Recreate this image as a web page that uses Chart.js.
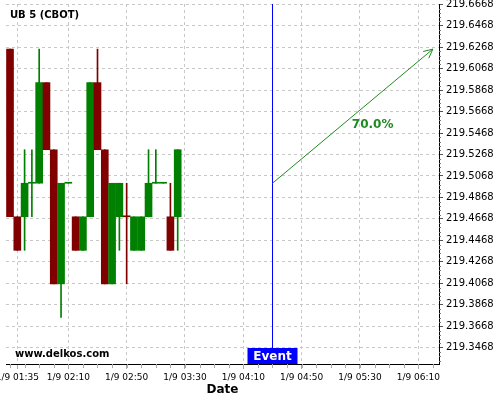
<!DOCTYPE html>
<html>
<head>
<meta charset="utf-8">
<script src="https://cdn.jsdelivr.net/npm/chart.js@4.4.0/dist/chart.umd.min.js"></script>
<style>
  html, body { margin: 0; padding: 0; background: #fff; }
</style>
</head>
<body>
<canvas id="myChart" width="500" height="400"></canvas>
<script>
// 5 minute bars, time = minutes after midnight on 1/9
const times  = [90, 95, 100, 105, 110, 115, 120, 125, 130, 135, 140, 145,
                150, 155, 160, 165, 170, 175, 180, 185, 190, 195, 200, 205]
const opens  = [219.625, 219.46875, 219.46875, 219.5, 219.5, 219.59375, 219.53125, 219.40625, 219.5, 219.46875, 219.4375, 219.46875,
                219.59375, 219.53125, 219.40625, 219.46875, 219.46875, 219.4375, 219.4375, 219.46875, 219.5, 219.5, 219.46875, 219.46875]
const highs  = [219.625, 219.46875, 219.53125, 219.53125, 219.625, 219.59375, 219.53125, 219.5, 219.5, 219.46875, 219.46875, 219.59375,
                219.625, 219.53125, 219.5, 219.5, 219.5, 219.46875, 219.46875, 219.53125, 219.53125, 219.5, 219.5, 219.53125]
const lows   = [219.46875, 219.4375, 219.4375, 219.46875, 219.5, 219.53125, 219.40625, 219.375, 219.5, 219.4375, 219.4375, 219.46875,
                219.53125, 219.40625, 219.40625, 219.4375, 219.40625, 219.4375, 219.4375, 219.46875, 219.5, 219.5, 219.4375, 219.4375]
const closes = [219.46875, 219.4375, 219.5, 219.5, 219.59375, 219.53125, 219.40625, 219.5, 219.5, 219.4375, 219.46875, 219.59375,
                219.53125, 219.40625, 219.5, 219.5, 219.46875, 219.46875, 219.46875, 219.5, 219.5, 219.5, 219.4375, 219.53125]

const xTickTimes = [95, 130, 170, 210, 250, 290, 330, 370]
const yTicks = [219.3468, 219.3668, 219.3868, 219.4068, 219.4268, 219.4468, 219.4668, 219.4868,
                219.5068, 219.5268, 219.5468, 219.5668, 219.5868, 219.6068, 219.6268, 219.6468, 219.6668]

// event + forecast arrow
const eventTime = 270
const eventPrice = 219.5
const targetTime = 380
const targetPrice = 219.625
const forecastText = '70.0%'

const GREEN = '#008000'
const RED = '#800000'
const ARROW = '#1f8a1f'

function isUp(i){
  if (closes[i] !== opens[i]) return closes[i] > opens[i]
  return i === 0 || closes[i] >= closes[i-1]
}

function fmtTime(m){
  const h = Math.floor(m / 60)
  const mm = m % 60
  return '1/9 ' + String(h).padStart(2, '0') + ':' + String(mm).padStart(2, '0')
}

const candleColor = (c) => isUp(c.dataIndex) ? GREEN : RED

const overlay = {
  id: 'overlay',
  afterDraw(chart){
    const {ctx, chartArea: a, scales: {x, y}} = chart
    ctx.save()

    // minor ticks on y axis
    ctx.strokeStyle = '#777'
    ctx.lineWidth = 1
    for (let k = -5; k <= 90; k++){
      if (k % 5 === 0) continue
      const v = yTicks[0] + k * 0.004
      const py = Math.round(y.getPixelForValue(v)) + 0.5
      if (py < a.top || py > a.bottom) continue
      ctx.beginPath(); ctx.moveTo(a.right, py); ctx.lineTo(a.right + 2, py); ctx.stroke()
    }
    // minor ticks on x axis, every 10 minutes
    ctx.strokeStyle = '#aaa'
    for (let m = 90; m <= 380; m += 10){
      const px = Math.round(x.getPixelForValue(m)) + 0.5
      ctx.beginPath(); ctx.moveTo(px, a.bottom); ctx.lineTo(px, a.bottom + 4); ctx.stroke()
    }

    // event line
    const ex = Math.round(x.getPixelForValue(eventTime)) + 0.5
    ctx.strokeStyle = '#0000ff'
    ctx.beginPath(); ctx.moveTo(ex, a.top); ctx.lineTo(ex, a.bottom); ctx.stroke()

    // arrow
    const x1 = x.getPixelForValue(eventTime), y1 = y.getPixelForValue(eventPrice)
    const x2 = x.getPixelForValue(targetTime), y2 = y.getPixelForValue(targetPrice)
    ctx.strokeStyle = ARROW
    ctx.beginPath(); ctx.moveTo(x1, y1); ctx.lineTo(x2, y2); ctx.stroke()
    const ang = Math.atan2(y2 - y1, x2 - x1)
    const hl = 10
    ctx.beginPath()
    ctx.moveTo(x2 - hl * Math.cos(ang - 0.45), y2 - hl * Math.sin(ang - 0.45))
    ctx.lineTo(x2, y2)
    ctx.lineTo(x2 - hl * Math.cos(ang + 0.45), y2 - hl * Math.sin(ang + 0.45))
    ctx.stroke()

    ctx.fillStyle = ARROW
    ctx.font = 'bold 12px "DejaVu Sans"'
    ctx.textAlign = 'center'
    ctx.textBaseline = 'middle'
    ctx.fillText(forecastText, (x1 + x2) / 2 + 20, (y1 + y2) / 2 + 9)

    // event label
    ctx.fillStyle = '#0000ff'
    ctx.fillRect(ex - 25, a.bottom - 16, 50, 16)
    ctx.fillStyle = '#fff'
    ctx.fillText('Event', ex, a.bottom - 7.5)

    // title + watermark
    ctx.fillStyle = '#000'
    ctx.font = 'bold 10px "DejaVu Sans"'
    ctx.textAlign = 'left'
    ctx.fillText('UB 5 (CBOT)', 10, 15.5)
    ctx.fillText('www.delkos.com', 15, 354)

    ctx.restore()
  }
}

new Chart(document.getElementById('myChart'), {
  type: 'bar',
  data: {
    datasets: [
      {
        label: 'bodies',
        data: times.map((t, i) => ({x: t, y: [opens[i], closes[i]]})),
        backgroundColor: candleColor,
        borderWidth: 0,
        barThickness: 7,
        minBarLength: 1,
        grouped: false,
        order: 0
      },
      {
        label: 'wicks',
        data: times.map((t, i) => ({x: t, y: [lows[i], highs[i]]})),
        backgroundColor: candleColor,
        borderWidth: 0,
        barThickness: 1,
        grouped: false,
        order: 1
      }
    ]
  },
  options: {
    responsive: false,
    devicePixelRatio: 1,
    animation: false,
    layout: { padding: { left: 6, top: 4, right: 0, bottom: 0 }, autoPadding: false },
    plugins: { legend: { display: false }, tooltip: { enabled: false } },
    scales: {
      x: {
        type: 'linear',
        offset: false,
        min: 87.25,
        max: 384.2,
        afterBuildTicks: (s) => { s.ticks = xTickTimes.map(v => ({value: v})) },
        afterFit: (s) => { s.height = 36; s.paddingLeft = 0; s.paddingRight = 0 },
        ticks: {
          callback: (v) => fmtTime(v),
          color: '#000',
          font: { family: 'DejaVu Sans', size: 9 },
          padding: 3,
          maxRotation: 0,
          autoSkip: false
        },
        grid: { offset: false, color: '#c8c8c8', tickColor: '#aaa', tickLength: 5 },
        border: { display: true, color: '#000', width: 1, dash: [3, 3] },
        title: {
          display: true,
          text: 'Date',
          color: '#000',
          font: { family: 'DejaVu Sans', size: 12, weight: 'bold' },
          padding: { top: 0, bottom: 3 }
        }
      },
      y: {
        position: 'right',
        min: 219.3316,
        max: 219.667,
        afterBuildTicks: (s) => { s.ticks = yTicks.map(v => ({value: v})) },
        afterFit: (s) => { s.width = 61; s.paddingTop = 0; s.paddingBottom = 0 },
        ticks: {
          callback: (v) => Number(v).toFixed(4),
          color: '#000',
          font: { family: 'DejaVu Sans', size: 10 },
          padding: 3,
          autoSkip: false
        },
        grid: { color: '#c8c8c8', tickColor: '#555', tickLength: 4 },
        border: { display: true, color: '#000', width: 1, dash: [3, 3] }
      }
    }
  },
  plugins: [overlay]
})
</script>
</body>
</html>
